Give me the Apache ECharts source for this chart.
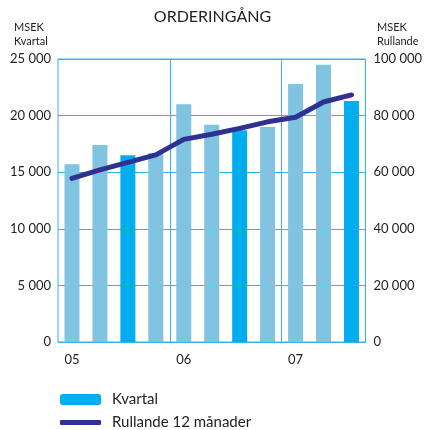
<!DOCTYPE html>
<html lang="sv">
<head>
<meta charset="UTF-8">
<title>Orderingång</title>
<style>
  html, body { margin: 0; padding: 0; background: #fff; }
  #chart { width: 425px; height: 430px; }
</style>
</head>
<body>
<div id="chart"></div>
<script src="https://cdn.jsdelivr.net/npm/echarts@6/dist/echarts.min.js"></script>
<script>
// kvartal 05 Q1 .. 07 Q3
var quarters = ['05 Q1', '05 Q2', '05 Q3', '05 Q4', '06 Q1', '06 Q2', '06 Q3', '06 Q4', '07 Q1', '07 Q2', '07 Q3'];
var kvartal = [15700, 17400, 16500, 16700, 21000, 19200, 18700, 19000, 22800, 24500, 21300];
var rullande = [57800, 60800, 63500, 66100, 71600, 73400, 75500, 77800, 79400, 84800, 87300];
// which bars are drawn in the strong colour
var highlighted = [2, 6, 10];

var lightBlue = '#80c4e1';
var strongBlue = '#00aeef';
var lineBlue = '#2e3192';
var gridCyan = '#35b2e6';
var font = 'Lato, "Open Sans", sans-serif';

function fmt(v) {
  return String(v).replace(/\B(?=(\d{3})+(?!\d))/g, ' ');
}

var barData = kvartal.map(function (v, i) {
  return {
    value: v,
    itemStyle: { color: highlighted.indexOf(i) >= 0 ? strongBlue : lightBlue }
  };
});

var chart = echarts.init(document.getElementById('chart'));
chart.setOption({
  animation: false,
  textStyle: { fontFamily: font, color: '#222' },
  title: {
    text: 'ORDERINGÅNG',
    left: 'center',
    top: 4,
    textStyle: { fontFamily: font, fontSize: 16, fontWeight: 'normal', color: '#222' }
  },
  graphic: [
    { type: 'text', left: 14, top: 20, style: { text: 'MSEK\nKvartal', font: '11px ' + font, fill: '#222', lineHeight: 14 } },
    { type: 'text', left: 377, top: 20, style: { text: 'MSEK\nRullande', font: '11px ' + font, fill: '#222', lineHeight: 14 } }
  ],
  legend: [
    {
      data: ['Kvartal'],
      left: 55, top: 387,
      itemWidth: 41, itemHeight: 11,
      textStyle: { fontFamily: font, fontSize: 15, color: '#222', padding: [0, 0, 0, 6] }
    },
    {
      data: [{ name: 'Rullande 12 månader', icon: 'roundRect' }],
      left: 55, top: 410,
      itemWidth: 41, itemHeight: 5,
      textStyle: { fontFamily: font, fontSize: 15, color: '#222', padding: [0, 0, 0, 6] }
    }
  ],
  grid: {
    left: 58, right: 56, top: 59, bottom: 88,
    show: true, borderColor: gridCyan, borderWidth: 1
  },
  xAxis: {
    type: 'category',
    data: quarters,
    axisLine: { lineStyle: { color: gridCyan } },
    axisTick: { show: false },
    axisLabel: {
      interval: 3, margin: 11, fontSize: 13, color: '#222', fontFamily: font,
      formatter: function (v) { return v.slice(0, 2); }
    },
    splitLine: {
      show: true,
      interval: function (i) { return i === 4 || i === 8; },
      lineStyle: { color: gridCyan, width: 1 }
    }
  },
  yAxis: [
    {
      type: 'value', min: 0, max: 25000, interval: 5000,
      axisLine: { show: false }, axisTick: { show: false },
      axisLabel: { margin: 7, fontSize: 13, color: '#222', fontFamily: font, formatter: fmt },
      splitLine: { lineStyle: { color: gridCyan, width: 1 } }
    },
    {
      type: 'value', min: 0, max: 100000, interval: 20000,
      axisLine: { show: false }, axisTick: { show: false },
      axisLabel: { margin: 8, fontSize: 13, color: '#222', fontFamily: font, formatter: fmt },
      splitLine: { show: false }
    }
  ],
  series: [
    {
      name: 'Kvartal',
      type: 'bar',
      data: barData,
      barWidth: 15,
      itemStyle: { color: strongBlue }
    },
    {
      name: 'Rullande 12 månader',
      type: 'line',
      yAxisIndex: 1,
      data: rullande,
      symbol: 'none',
      itemStyle: { color: lineBlue },
      lineStyle: { color: lineBlue, width: 5, cap: 'round', join: 'round' }
    }
  ]
});
</script>
</body>
</html>
